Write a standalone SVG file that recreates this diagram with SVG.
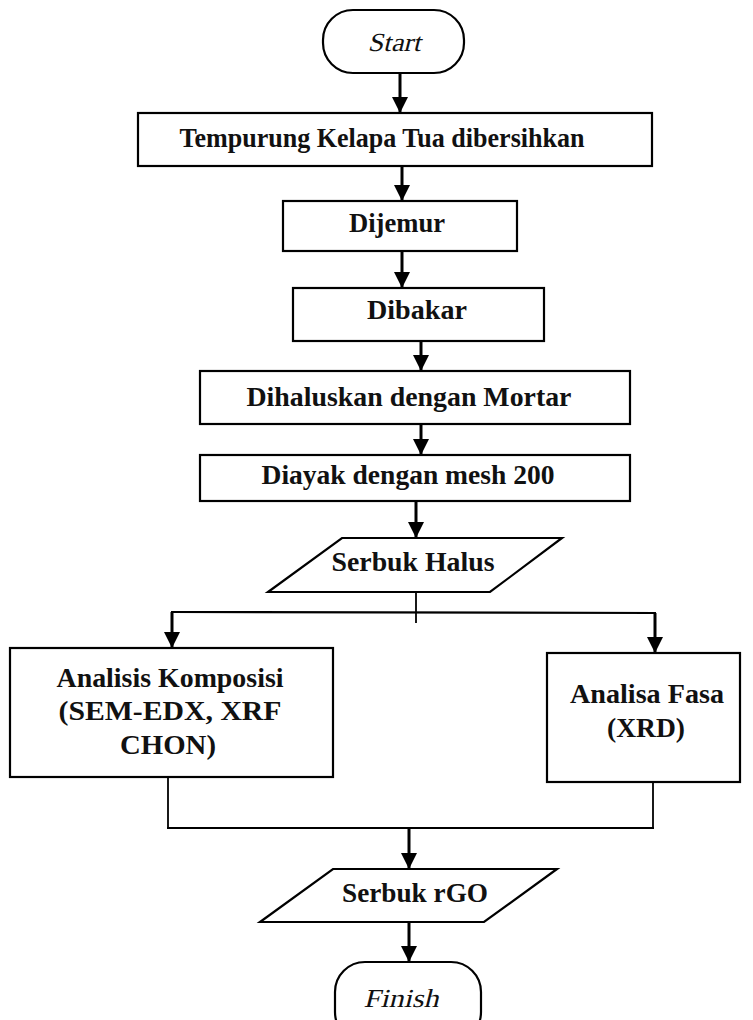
<svg xmlns="http://www.w3.org/2000/svg" width="753" height="1020" viewBox="0 0 753 1020">
<style>
.box{fill:#fff;stroke:#000;stroke-width:2.2}
.t{font-family:"Liberation Serif","Times New Roman",serif;font-weight:bold;font-size:27px;fill:#111;text-anchor:middle}
.ti{font-family:"Liberation Serif","Times New Roman",serif;font-size:26px;fill:#111;text-anchor:middle}
.arr{stroke:#000;stroke-width:3;fill:none;marker-end:url(#ah)}
.ln{stroke:#000;stroke-width:1.8;fill:none}
</style>
<defs>
<marker id="ah" viewBox="0 0 16 16" refX="16" refY="8" markerWidth="16" markerHeight="16" markerUnits="userSpaceOnUse" orient="auto">
<path d="M0,0 L16,8 L0,16 z" fill="#000"/>
</marker>
</defs>
<rect width="753" height="1020" fill="#fff"/>
<g id="connectors">
<line class="arr" x1="400" y1="73" x2="400" y2="113"/>
<line class="arr" x1="402" y1="166" x2="402" y2="201"/>
<line class="arr" x1="402" y1="251" x2="402" y2="288"/>
<line class="arr" x1="421" y1="341" x2="421" y2="371"/>
<line class="arr" x1="421" y1="424" x2="421" y2="455"/>
<line class="arr" x1="416" y1="501" x2="416" y2="538"/>
<line class="ln" x1="416" y1="592" x2="416" y2="623"/>
<line class="ln" x1="171" y1="612" x2="656" y2="613" style="stroke-width:2.2"/>
<line class="arr" x1="172" y1="612" x2="172" y2="648"/>
<line class="arr" x1="655" y1="613" x2="655" y2="653"/>
<line class="ln" x1="168" y1="777" x2="168" y2="828"/>
<line class="ln" x1="653" y1="782" x2="653" y2="828"/>
<line class="ln" x1="167" y1="828" x2="654" y2="828" style="stroke-width:2.2"/>
<line class="arr" x1="409" y1="828" x2="409" y2="869"/>
<line class="arr" x1="409" y1="922" x2="409" y2="962"/>
</g>
<g id="start">
<rect class="box" x="323" y="10" width="141" height="63" rx="30"/>
<text class="ti" transform="translate(394,51) skewX(-14)" x="0" y="0" textLength="53" lengthAdjust="spacingAndGlyphs">Start</text>
</g>
<g id="n1">
<rect class="box" x="138" y="113" width="514" height="53"/>
<text class="t" x="382" y="147" textLength="405" lengthAdjust="spacingAndGlyphs">Tempurung Kelapa Tua dibersihkan</text>
</g>
<g id="n2">
<rect class="box" x="283" y="201" width="234" height="50"/>
<text class="t" x="397" y="232" textLength="96" lengthAdjust="spacingAndGlyphs">Dijemur</text>
</g>
<g id="n3">
<rect class="box" x="293" y="288" width="251" height="53"/>
<text class="t" x="417" y="319" textLength="100" lengthAdjust="spacingAndGlyphs">Dibakar</text>
</g>
<g id="n4">
<rect class="box" x="200" y="371" width="430" height="53"/>
<text class="t" x="409" y="406" textLength="325" lengthAdjust="spacingAndGlyphs">Dihaluskan dengan Mortar</text>
</g>
<g id="n5">
<rect class="box" x="200" y="455" width="430" height="46"/>
<text class="t" x="408" y="484" textLength="293" lengthAdjust="spacingAndGlyphs">Diayak dengan mesh 200</text>
</g>
<g id="n6">
<polygon class="box" points="342,538 562,538 490,592 268,592"/>
<text class="t" x="413" y="571" textLength="163" lengthAdjust="spacingAndGlyphs">Serbuk Halus</text>
</g>
<g id="n7">
<rect class="box" x="10" y="648" width="323" height="129"/>
<text class="t" x="170" y="687" textLength="227" lengthAdjust="spacingAndGlyphs">Analisis Komposisi</text>
<text class="t" x="170" y="720" textLength="223" lengthAdjust="spacingAndGlyphs">(SEM-EDX, XRF</text>
<text class="t" x="168" y="754" textLength="96" lengthAdjust="spacingAndGlyphs">CHON)</text>
</g>
<g id="n8">
<rect class="box" x="547" y="653" width="193" height="129"/>
<text class="t" x="647" y="703" textLength="154" lengthAdjust="spacingAndGlyphs">Analisa Fasa</text>
<text class="t" x="646" y="737" textLength="78" lengthAdjust="spacingAndGlyphs">(XRD)</text>
</g>
<g id="n9">
<polygon class="box" points="333,869 557,869 484,922 260,922"/>
<text class="t" x="415" y="902" textLength="146" lengthAdjust="spacingAndGlyphs">Serbuk rGO</text>
</g>
<g id="finish">
<rect class="box" x="335" y="962" width="146" height="80" rx="30"/>
<text class="ti" transform="translate(401,1007) skewX(-14)" x="0" y="0" textLength="75" lengthAdjust="spacingAndGlyphs">Finish</text>
</g>
</svg>
